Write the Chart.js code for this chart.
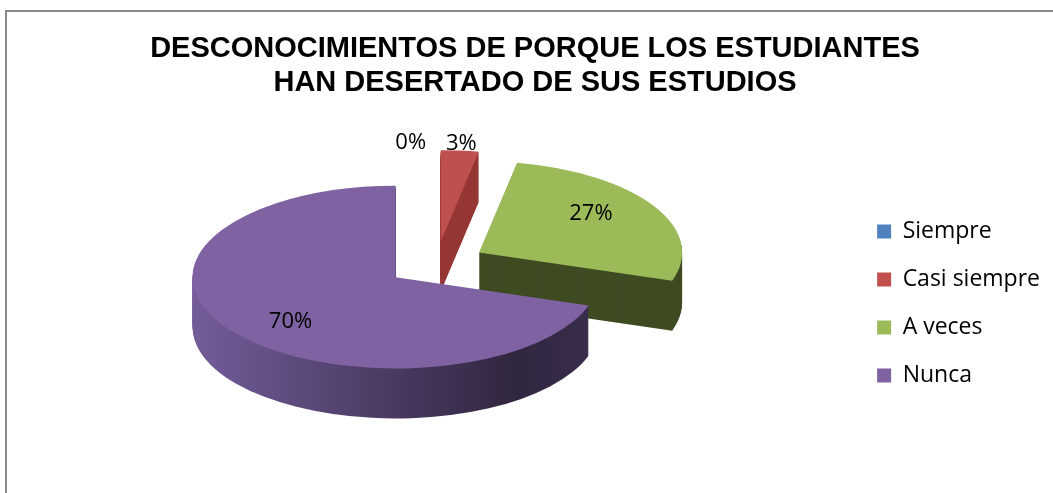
<!DOCTYPE html>
<html>
<head>
<meta charset="utf-8">
<script src="https://cdn.jsdelivr.net/npm/chart.js@4/dist/chart.umd.min.js"></script>
<style>
  html, body { margin: 0; padding: 0; background: #fff; overflow: hidden; }
  #wrap { position: relative; width: 1053px; height: 493px; }
  #frame {
    position: absolute; left: 5px; top: 10px; width: 1100px; height: 600px;
    border-left: 2px solid #898989; border-top: 2px solid #898989;
    pointer-events: none;
  }
</style>
</head>
<body>
<div id="wrap">
  <canvas id="chart" width="1053" height="493"></canvas>
  <div id="frame"></div>
</div>
<script>
// Datos del grafico
const categories = ["Siempre", "Casi siempre", "A veces", "Nunca"];
const percentValues = [0, 3, 27, 70];
const pctLabels = ["0%", "3%", "27%", "70%"];
const titleLines = ["DESCONOCIMIENTOS DE PORQUE LOS ESTUDIANTES", "HAN DESERTADO DE SUS ESTUDIOS"];

// Colores (cara superior / lateral)
const topColors = ["#4f81bd", "#c0504d", "#9bbb59", "#7e62a1"];
const sideColors = ["#385d8a", "#953735", "#3f4b22", null]; // null -> degradado

const TILT = 0.45;     // aplastamiento vertical del disco
const DEPTH = 50;      // grosor en px
const EXPLODE = 50;    // separacion de las porciones en px

// Chart.js 4.5 al dibujar un arco con offset:
//  - lo traslada offset/4 hacia fuera
//  - suma ro = offset/4 * fix al radio
//  - recorta cada borde angular ro / (2*PI*R)
function arcFix(arc) {
  return 1 - Math.sin(Math.min(Math.PI, arc.circumference || 0));
}

function arcGeom(arc) {
  const mid = (arc.startAngle + arc.endAngle) / 2;
  const t = (arc.options.offset || 0) / 4;
  const ro = t * arcFix(arc);
  const r = arc.outerRadius + ro;
  const trim = ro / (2 * Math.PI * r);
  return {
    cx: arc.x + Math.cos(mid) * t,
    cy: arc.y + Math.sin(mid) * t,
    r: r,
    s: arc.startAngle + trim,
    e: arc.endAngle - trim,
    mid: mid,
  };
}

function wedgePath(ctx, g, dy) {
  ctx.beginPath();
  ctx.moveTo(g.cx, g.cy + dy);
  ctx.arc(g.cx, g.cy + dy, g.r, g.s, g.e);
  ctx.closePath();
}

const pie3d = {
  id: "pie3d",
  afterDatasetsUpdate(chart) {
    // mismo radio y angulos reales para todas las porciones separadas
    chart.getDatasetMeta(0).data.forEach((arc) => {
      const t = (arc.options.offset || 0) / 4;
      const ro = t * arcFix(arc);
      const R = arc.outerRadius;
      arc.outerRadius = R - ro;
      const trim = ro / (2 * Math.PI * R);
      arc.startAngle -= trim;
      arc.endAngle += trim;
    });
  },
  beforeDatasetsDraw(chart) {
    const ctx = chart.ctx;
    const arcs = chart.getDatasetMeta(0).data;
    const oy = arcs[0].y;
    ctx.save();
    ctx.translate(0, oy);
    ctx.scale(1, TILT);
    ctx.translate(0, -oy);

    // Laterales: primero las porciones del fondo
    const order = arcs.map((a, i) => i).sort((a, b) => {
      const ma = (arcs[a].startAngle + arcs[a].endAngle) / 2;
      const mb = (arcs[b].startAngle + arcs[b].endAngle) / 2;
      return Math.sin(ma) - Math.sin(mb);
    });
    order.forEach((i) => {
      const arc = arcs[i];
      if (!(arc.circumference > 0)) return;
      const g = arcGeom(arc);
      let fill = sideColors[i];
      if (!fill) {
        fill = ctx.createLinearGradient(g.cx - g.r, 0, g.cx + g.r, 0);
        fill.addColorStop(0, "#745c9a");
        fill.addColorStop(0.45, "#4c3d66");
        fill.addColorStop(0.8, "#31263f");
        fill.addColorStop(1, "#3a2e4e");
      }
      ctx.fillStyle = fill;
      for (let d = DEPTH; d > 0; d--) {
        wedgePath(ctx, g, d / TILT);
        ctx.fill();
      }
    });
  },
  afterDatasetsDraw(chart) {
    const ctx = chart.ctx;
    ctx.restore();
    const arcs = chart.getDatasetMeta(0).data;
    const oy = arcs[0].y;
    ctx.save();
    ctx.font = '22px "Open Sans"';
    ctx.fillStyle = "#000";
    ctx.textBaseline = "middle";
    arcs.forEach((arc, i) => {
      const g = arcGeom(arc);
      const small = percentValues[i] < 5;
      // etiquetas pequenas fuera, el resto sobre la cara superior
      const fx = small ? 1.08 : 0.64;
      const fy = small ? 1.08 : 0.83;
      const x = g.cx + Math.cos(g.mid) * g.r * fx;
      const y = oy + (g.cy + Math.sin(g.mid) * g.r * fy - oy) * TILT;
      const zero = percentValues[i] === 0;
      ctx.textAlign = zero ? "right" : "center";
      ctx.fillText(pctLabels[i], zero ? x - 10 : x, y);
    });
    ctx.restore();
  },
};

new Chart(document.getElementById("chart"), {
  type: "pie",
  data: {
    labels: categories,
    datasets: [
      {
        data: percentValues,
        backgroundColor: topColors,
        borderWidth: 0,
        radius: 203,
        clip: false,
        offset: EXPLODE * 4,
      },
    ],
  },
  options: {
    responsive: false,
    animation: false,
    events: [],
    layout: { padding: { left: 20, right: 3, top: 0, bottom: 70 } },
    plugins: {
      tooltip: { enabled: false },
      title: {
        display: true,
        text: titleLines,
        color: "#000",
        font: { family: '"Liberation Sans", Arial, sans-serif', size: 29, weight: "bold", lineHeight: 1.17 },
        padding: { top: 32, bottom: 5 },
      },
      legend: {
        position: "right",
        title: { display: true, text: "", font: { size: 12 }, padding: { top: 169.6, bottom: 0 } },
        labels: {
          color: "#000",
          font: { family: '"Open Sans"', size: 23 },
          boxWidth: 14,
          boxHeight: 14,
          padding: 25,
        },
      },
    },
  },
  plugins: [pie3d],
});
</script>
</body>
</html>
